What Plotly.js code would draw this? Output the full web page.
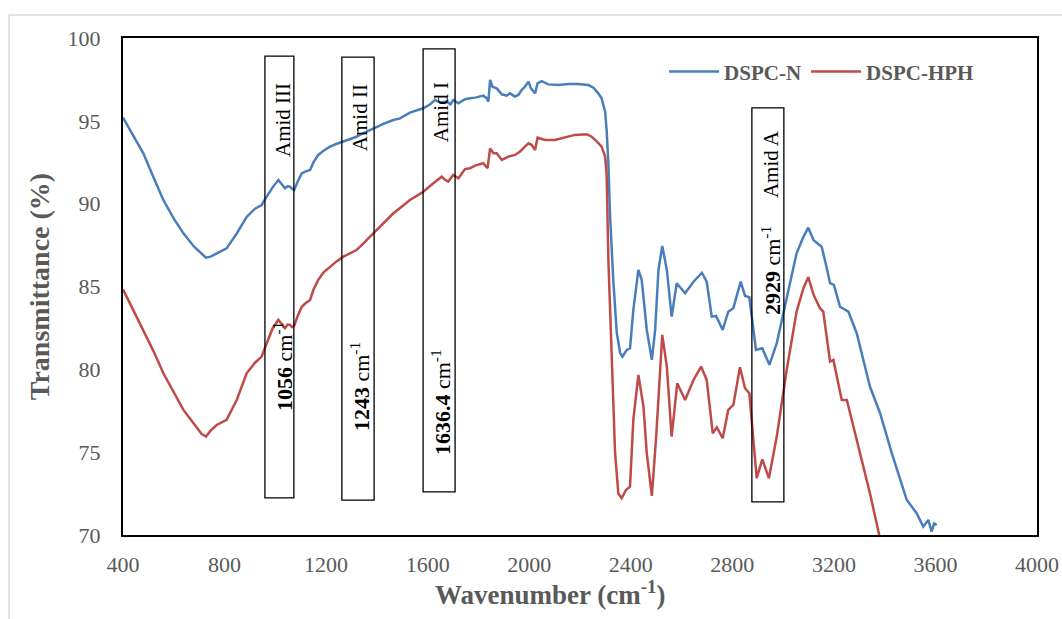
<!DOCTYPE html>
<html>
<head>
<meta charset="utf-8">
<script src="https://cdn.plot.ly/plotly-3.0.1.min.js"></script>
<style>html,body{margin:0;padding:0;background:#fff;}#chart{width:1062px;height:619px;}</style>
</head>
<body>
<div id="chart"></div>
<script>
// DSPC-N (blue)
const wnN = [400,440,480,520,559,600,638,680,710,727,745,769,808,848,887,920,946,966,990,1012,1025,1038,1048,1058,1066,1074,1090,1104,1120,1137,1150,1169,1190,1215,1240,1268,1295,1320,1345,1373,1400,1430,1465,1491,1530,1560,1583,1610,1629,1650,1675,1690,1701,1721,1747,1767,1787,1819,1833,1839,1846,1855,1872,1892,1911,1924,1944,1957,1970,1983,1997,2007,2023,2033,2049,2075,2115,2154,2193,2233,2253,2272,2285,2299,2305,2312,2318,2331,2345,2358,2367,2384,2397,2410,2430,2443,2463,2483,2496,2509,2524,2542,2561,2581,2614,2647,2680,2699,2719,2736,2762,2784,2804,2833,2850,2867,2893,2918,2946,2975,3014,3053,3080,3099,3120,3152,3172,3185,3200,3224,3257,3290,3303,3329,3342,3382,3428,3487,3526,3552,3572,3585,3595,3605];
const tN = [95.2,94.1,93.04,91.6,90.22,89.1,88.21,87.4,86.95,86.74,86.8,87.0,87.3,88.2,89.2,89.7,89.92,90.42,91.0,91.43,91.2,90.93,91.05,91.03,90.9,90.83,91.4,91.83,91.95,92.03,92.5,92.94,93.2,93.44,93.6,93.74,93.9,94.04,94.25,94.45,94.6,94.85,95.05,95.15,95.5,95.65,95.76,96.0,96.26,96.1,96.16,96.0,96.26,96.06,96.3,96.36,96.4,96.52,96.36,96.16,97.47,97.06,96.96,96.6,96.52,96.66,96.46,96.56,96.86,97.06,97.36,96.96,96.66,97.27,97.4,97.2,97.16,97.22,97.22,97.16,97.0,96.66,96.36,95.55,94.4,92.34,89.42,85.4,82.18,81.0,80.77,81.17,81.27,83.58,86.0,85.4,82.38,80.57,82.38,86.0,87.45,86.0,83.18,85.2,84.59,85.29,85.83,85.29,83.18,83.22,82.38,83.48,83.69,85.29,84.43,84.35,81.17,81.27,80.27,81.58,84.19,87.0,88.0,88.55,87.8,87.4,86.1,85.2,85.1,83.78,83.48,82.18,81.37,79.76,78.96,77.35,74.94,72.12,71.32,70.51,70.91,70.2,70.7,70.6];

// DSPC-HPH (red)
const wnH = [400,440,480,520,559,600,638,680,710,727,745,769,808,848,887,920,946,966,990,1012,1025,1038,1048,1058,1066,1074,1090,1104,1120,1137,1150,1169,1190,1215,1240,1268,1295,1320,1340,1360,1399,1430,1465,1500,1530,1560,1583,1620,1655,1668,1681,1701,1721,1747,1767,1787,1819,1836,1846,1859,1872,1892,1918,1944,1964,1983,1997,2010,2023,2033,2062,2101,2141,2180,2226,2246,2265,2285,2299,2305,2312,2325,2338,2351,2364,2381,2397,2410,2430,2450,2463,2483,2500,2524,2542,2561,2583,2614,2647,2677,2699,2723,2739,2762,2784,2804,2830,2850,2867,2896,2918,2944,2975,3014,3053,3080,3099,3120,3145,3158,3185,3198,3231,3251,3303,3342,3380];
const tH = [84.83,83.6,82.38,81.1,79.76,78.6,77.55,76.7,76.1,75.94,76.3,76.64,76.95,78.15,79.76,80.4,80.77,81.57,82.5,82.98,82.7,82.48,82.7,82.68,82.55,82.62,83.3,83.78,84.0,84.19,84.8,85.4,85.85,86.2,86.5,86.8,87.0,87.2,87.5,87.81,88.41,88.9,89.42,89.85,90.22,90.5,90.72,91.2,91.63,91.45,91.33,91.73,91.53,92.09,92.14,92.3,92.44,92.14,93.34,93.04,93.04,92.64,92.84,92.94,93.14,93.44,93.64,93.54,93.24,93.98,93.84,93.84,93.98,94.15,94.19,94.04,93.78,93.44,92.84,91.73,86.5,80.5,75.0,72.5,72.22,72.72,72.92,76.95,79.66,77.75,74.94,72.36,75.94,82.08,80.17,75.94,79.16,78.15,79.36,80.17,79.36,76.14,76.5,75.84,77.55,77.85,80.13,78.86,78.56,73.43,74.57,73.43,75.94,79.96,83.48,84.9,85.56,84.5,83.69,83.48,80.47,80.57,78.15,78.15,74.94,72.52,69.9];

const seriesNames = ['DSPC-N','DSPC-HPH'];
const xTicks = [400,800,1200,1600,2000,2400,2800,3200,3600,4000];
const yTicks = [70,75,80,85,90,95,100];

// Band labels (name, wavenumber label)
const bandNames = ['Amid III','Amid II','Amid I','Amid A'];
const bandWn = ['1056','1243','1636.4','2929'];

// box geometry [x0,x1,y0,y1] and label positions
const boxes = [[959,1073,72.24,98.9],[1262,1389,72.1,98.85],[1582,1708,72.6,99.34],[2877,3003,72.0,95.78]];
const nameAt = [[1030,95.05],[1334,95.17],[1653,95.53],[2953,92.4]];
const wnAt = [[1030,80.2],[1334,78.94],[1653,78.03],[2953,85.94]];

const serif = 'Liberation Serif, Times New Roman, serif';
const gray = '#595959';

const traces = [
  {x: wnN, y: tN, type: 'scatter', mode: 'lines', name: seriesNames[0], line: {color: '#4a7ebb', width: 2.5}},
  {x: wnH, y: tH, type: 'scatter', mode: 'lines', name: seriesNames[1], line: {color: '#be4b48', width: 2.5}}
];

const shapes = boxes.map(b => ({type: 'rect', xref: 'x', yref: 'y', x0: b[0], x1: b[1], y0: b[2], y1: b[3], line: {color: '#000', width: 1.3}, fillcolor: 'rgba(0,0,0,0)', layer: 'above'}));
// outer chart-area border (left and top)
shapes.push({type: 'line', xref: 'paper', yref: 'paper', x0: -0.1247, x1: -0.1247, y0: -0.2, y1: 1.0463, line: {color: '#d9d9d9', width: 1.5}});
shapes.push({type: 'line', xref: 'paper', yref: 'paper', x0: -0.1247, x1: 1.1, y0: 1.0463, y1: 1.0463, line: {color: '#d9d9d9', width: 1.5}});

const annotations = [];
bandNames.forEach((n, i) => {
  annotations.push({x: nameAt[i][0], y: nameAt[i][1], xref: 'x', yref: 'y', text: n, showarrow: false, textangle: -90, font: {family: serif, size: 21, color: '#000'}});
  annotations.push({x: wnAt[i][0], y: wnAt[i][1], xref: 'x', yref: 'y', text: '<b>' + bandWn[i] + '</b> cm<sup>-1</sup>', showarrow: false, textangle: -90, font: {family: serif, size: 22, color: '#000'}});
});
annotations.push({x: (550-123)/914, y: -(593-535)/497, xref: 'paper', yref: 'paper', text: '<b>Wavenumber (cm<sup>-1</sup>)</b>', showarrow: false, font: {family: serif, size: 27, color: gray}, xanchor: 'center', yanchor: 'middle'});

const layout = {
  width: 1062, height: 619,
  margin: {l: 123, r: 25, t: 38, b: 84},
  paper_bgcolor: '#fff', plot_bgcolor: '#fff',
  showlegend: true,
  legend: {orientation: 'h', x: 0.592, y: 0.932, xanchor: 'left', yanchor: 'middle', itemwidth: 50, font: {family: serif, size: 21, color: gray, weight: 'bold'}, bgcolor: 'rgba(0,0,0,0)', tracegroupgap: 0},
  xaxis: {range: [400, 4000], tickvals: xTicks, ticktext: xTicks.map(String), showgrid: false, zeroline: false, showline: true, mirror: true, linecolor: '#000', linewidth: 2, ticks: 'outside', ticklen: 9, tickcolor: 'rgba(0,0,0,0)', tickfont: {family: serif, size: 22, color: gray}},
  yaxis: {range: [70, 100], tickvals: yTicks, ticktext: yTicks.map(String), showgrid: false, zeroline: false, showline: true, mirror: true, linecolor: '#000', linewidth: 2, ticks: 'outside', ticklen: 16, tickcolor: 'rgba(0,0,0,0)', tickfont: {family: serif, size: 22, color: gray},
    title: {text: '<b>Transmittance (%)</b>', font: {family: serif, size: 28, color: gray}, standoff: 10}},
  shapes: shapes,
  annotations: annotations
};

Plotly.newPlot('chart', traces, layout, {displayModeBar: false, staticPlot: true});
</script>
</body>
</html>
